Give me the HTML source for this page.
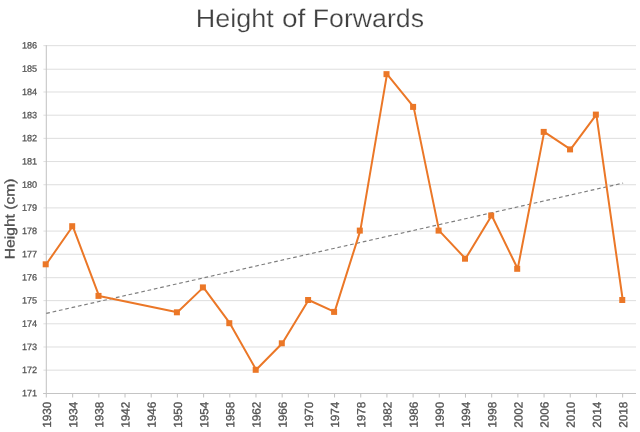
<!DOCTYPE html>
<html><head><meta charset="utf-8"><title>Height of Forwards</title>
<style>
html,body{margin:0;padding:0;background:#fff;}
body{width:640px;height:432px;overflow:hidden;font-family:"Liberation Sans",sans-serif;}
svg{display:block;will-change:transform;}
svg text{text-rendering:geometricPrecision;font-family:"Liberation Sans",sans-serif;}
</style></head><body>
<svg width="640" height="432" viewBox="0 0 640 432">
<rect width="640" height="432" fill="#ffffff"/>
<g stroke="#D8D8D8" stroke-width="0.85" fill="none">
<line x1="43.40" y1="370.17" x2="636.00" y2="370.17"/>
<line x1="43.40" y1="346.99" x2="636.00" y2="346.99"/>
<line x1="43.40" y1="323.81" x2="636.00" y2="323.81"/>
<line x1="43.40" y1="300.63" x2="636.00" y2="300.63"/>
<line x1="43.40" y1="277.70" x2="636.00" y2="277.70"/>
<line x1="43.40" y1="254.27" x2="636.00" y2="254.27"/>
<line x1="43.40" y1="231.09" x2="636.00" y2="231.09"/>
<line x1="43.40" y1="207.91" x2="636.00" y2="207.91"/>
<line x1="43.40" y1="184.73" x2="636.00" y2="184.73"/>
<line x1="43.40" y1="161.55" x2="636.00" y2="161.55"/>
<line x1="43.40" y1="138.37" x2="636.00" y2="138.37"/>
<line x1="43.40" y1="115.19" x2="636.00" y2="115.19"/>
<line x1="43.40" y1="92.01" x2="636.00" y2="92.01"/>
<line x1="43.40" y1="69.23" x2="636.00" y2="69.23"/>
<line x1="43.40" y1="45.65" x2="636.00" y2="45.65"/>
</g>
<g stroke="#C4C4C4" stroke-width="1.05" fill="none">
<line x1="46.30" y1="45.15" x2="46.30" y2="397.60"/>
<line x1="43.10" y1="393.40" x2="636.00" y2="393.40"/>
<line x1="72.64" y1="393.40" x2="72.64" y2="397.60"/>
<line x1="98.83" y1="393.40" x2="98.83" y2="397.60"/>
<line x1="125.02" y1="393.40" x2="125.02" y2="397.60"/>
<line x1="151.21" y1="393.40" x2="151.21" y2="397.60"/>
<line x1="177.40" y1="393.40" x2="177.40" y2="397.60"/>
<line x1="203.59" y1="393.40" x2="203.59" y2="397.60"/>
<line x1="229.78" y1="393.40" x2="229.78" y2="397.60"/>
<line x1="255.97" y1="393.40" x2="255.97" y2="397.60"/>
<line x1="282.16" y1="393.40" x2="282.16" y2="397.60"/>
<line x1="308.35" y1="393.40" x2="308.35" y2="397.60"/>
<line x1="334.54" y1="393.40" x2="334.54" y2="397.60"/>
<line x1="360.73" y1="393.40" x2="360.73" y2="397.60"/>
<line x1="386.92" y1="393.40" x2="386.92" y2="397.60"/>
<line x1="413.11" y1="393.40" x2="413.11" y2="397.60"/>
<line x1="439.30" y1="393.40" x2="439.30" y2="397.60"/>
<line x1="465.49" y1="393.40" x2="465.49" y2="397.60"/>
<line x1="491.68" y1="393.40" x2="491.68" y2="397.60"/>
<line x1="517.87" y1="393.40" x2="517.87" y2="397.60"/>
<line x1="544.06" y1="393.40" x2="544.06" y2="397.60"/>
<line x1="570.25" y1="393.40" x2="570.25" y2="397.60"/>
<line x1="596.44" y1="393.40" x2="596.44" y2="397.60"/>
<line x1="622.63" y1="393.40" x2="622.63" y2="397.60"/>
</g>
<g fill="#505050" stroke="#505050" stroke-width="0.25" font-size="9.20" text-anchor="end">
<text transform="translate(37.10 396.30) rotate(0.03)" textLength="15.20" lengthAdjust="spacingAndGlyphs">171</text>
<text transform="translate(37.10 373.12) rotate(0.03)" textLength="15.20" lengthAdjust="spacingAndGlyphs">172</text>
<text transform="translate(37.10 349.94) rotate(0.03)" textLength="15.20" lengthAdjust="spacingAndGlyphs">173</text>
<text transform="translate(37.10 326.76) rotate(0.03)" textLength="15.20" lengthAdjust="spacingAndGlyphs">174</text>
<text transform="translate(37.10 303.58) rotate(0.03)" textLength="15.20" lengthAdjust="spacingAndGlyphs">175</text>
<text transform="translate(37.10 280.40) rotate(0.03)" textLength="15.20" lengthAdjust="spacingAndGlyphs">176</text>
<text transform="translate(37.10 257.22) rotate(0.03)" textLength="15.20" lengthAdjust="spacingAndGlyphs">177</text>
<text transform="translate(37.10 234.04) rotate(0.03)" textLength="15.20" lengthAdjust="spacingAndGlyphs">178</text>
<text transform="translate(37.10 210.86) rotate(0.03)" textLength="15.20" lengthAdjust="spacingAndGlyphs">179</text>
<text transform="translate(37.10 187.68) rotate(0.03)" textLength="15.20" lengthAdjust="spacingAndGlyphs">180</text>
<text transform="translate(37.10 164.50) rotate(0.03)" textLength="15.20" lengthAdjust="spacingAndGlyphs">181</text>
<text transform="translate(37.10 141.32) rotate(0.03)" textLength="15.20" lengthAdjust="spacingAndGlyphs">182</text>
<text transform="translate(37.10 118.14) rotate(0.03)" textLength="15.20" lengthAdjust="spacingAndGlyphs">183</text>
<text transform="translate(37.10 94.96) rotate(0.03)" textLength="15.20" lengthAdjust="spacingAndGlyphs">184</text>
<text transform="translate(37.10 71.78) rotate(0.03)" textLength="15.20" lengthAdjust="spacingAndGlyphs">185</text>
<text transform="translate(37.10 48.60) rotate(0.03)" textLength="15.20" lengthAdjust="spacingAndGlyphs">186</text>
</g>
<g fill="#505050" stroke="#505050" stroke-width="0.3" font-size="11.80" text-anchor="end">
<text transform="translate(51.00 401.70) rotate(-89.97)" textLength="26.00" lengthAdjust="spacingAndGlyphs">1930</text>
<text transform="translate(77.19 401.70) rotate(-89.97)" textLength="26.00" lengthAdjust="spacingAndGlyphs">1934</text>
<text transform="translate(103.38 401.70) rotate(-89.97)" textLength="26.00" lengthAdjust="spacingAndGlyphs">1938</text>
<text transform="translate(129.57 401.70) rotate(-89.97)" textLength="26.00" lengthAdjust="spacingAndGlyphs">1942</text>
<text transform="translate(155.76 401.70) rotate(-89.97)" textLength="26.00" lengthAdjust="spacingAndGlyphs">1946</text>
<text transform="translate(181.95 401.70) rotate(-89.97)" textLength="26.00" lengthAdjust="spacingAndGlyphs">1950</text>
<text transform="translate(208.14 401.70) rotate(-89.97)" textLength="26.00" lengthAdjust="spacingAndGlyphs">1954</text>
<text transform="translate(234.33 401.70) rotate(-89.97)" textLength="26.00" lengthAdjust="spacingAndGlyphs">1958</text>
<text transform="translate(260.52 401.70) rotate(-89.97)" textLength="26.00" lengthAdjust="spacingAndGlyphs">1962</text>
<text transform="translate(286.71 401.70) rotate(-89.97)" textLength="26.00" lengthAdjust="spacingAndGlyphs">1966</text>
<text transform="translate(312.90 401.70) rotate(-89.97)" textLength="26.00" lengthAdjust="spacingAndGlyphs">1970</text>
<text transform="translate(339.09 401.70) rotate(-89.97)" textLength="26.00" lengthAdjust="spacingAndGlyphs">1974</text>
<text transform="translate(365.28 401.70) rotate(-89.97)" textLength="26.00" lengthAdjust="spacingAndGlyphs">1978</text>
<text transform="translate(391.47 401.70) rotate(-89.97)" textLength="26.00" lengthAdjust="spacingAndGlyphs">1982</text>
<text transform="translate(417.66 401.70) rotate(-89.97)" textLength="26.00" lengthAdjust="spacingAndGlyphs">1986</text>
<text transform="translate(443.85 401.70) rotate(-89.97)" textLength="26.00" lengthAdjust="spacingAndGlyphs">1990</text>
<text transform="translate(470.04 401.70) rotate(-89.97)" textLength="26.00" lengthAdjust="spacingAndGlyphs">1994</text>
<text transform="translate(496.23 401.70) rotate(-89.97)" textLength="26.00" lengthAdjust="spacingAndGlyphs">1998</text>
<text transform="translate(522.42 401.70) rotate(-89.97)" textLength="26.00" lengthAdjust="spacingAndGlyphs">2002</text>
<text transform="translate(548.61 401.70) rotate(-89.97)" textLength="26.00" lengthAdjust="spacingAndGlyphs">2006</text>
<text transform="translate(574.80 401.70) rotate(-89.97)" textLength="26.00" lengthAdjust="spacingAndGlyphs">2010</text>
<text transform="translate(600.99 401.70) rotate(-89.97)" textLength="26.00" lengthAdjust="spacingAndGlyphs">2014</text>
<text transform="translate(627.18 401.70) rotate(-89.97)" textLength="26.00" lengthAdjust="spacingAndGlyphs">2018</text>
</g>
<text transform="translate(14.55 218.85) rotate(-89.97)" fill="#505050" stroke="#505050" stroke-width="0.3" font-size="13.80" text-anchor="middle" textLength="80.60" lengthAdjust="spacingAndGlyphs">Height (cm)</text>
<g fill="#404040" stroke="#ffffff" stroke-width="0.25" font-size="25.50">
<text x="195.70" y="26.80" textLength="78.00" lengthAdjust="spacingAndGlyphs">Height</text>
<text x="281.90" y="26.80" textLength="23.40" lengthAdjust="spacingAndGlyphs">of</text>
<text x="312.80" y="26.80" textLength="111.20" lengthAdjust="spacingAndGlyphs">Forwards</text>
</g>
<line x1="46.25" y1="313.4" x2="623.1" y2="183.1" stroke="#7E7E7E" stroke-width="1.15" stroke-dasharray="3.7 2.79"/>
<polyline points="46.20,264.30 72.70,226.20 99.00,295.90 177.40,312.30 203.40,287.40 229.80,323.20 256.20,369.80 282.30,343.30 308.60,300.00 334.60,311.90 360.30,230.60 387.00,74.15 413.60,106.90 439.10,230.60 465.50,258.70 491.70,215.50 517.70,268.80 544.20,131.90 570.55,149.40 596.35,114.60 622.75,300.00" fill="none" stroke="#EB7727" stroke-width="2.00" stroke-linejoin="round" stroke-linecap="round"/>
<g fill="#EB7727">
<rect x="42.70" y="261.30" width="6.00" height="6.00"/>
<rect x="69.20" y="223.20" width="6.00" height="6.00"/>
<rect x="95.50" y="292.90" width="6.00" height="6.00"/>
<rect x="173.90" y="309.30" width="6.00" height="6.00"/>
<rect x="199.90" y="284.40" width="6.00" height="6.00"/>
<rect x="226.30" y="320.20" width="6.00" height="6.00"/>
<rect x="252.70" y="366.80" width="6.00" height="6.00"/>
<rect x="278.80" y="340.30" width="6.00" height="6.00"/>
<rect x="305.10" y="297.00" width="6.00" height="6.00"/>
<rect x="331.10" y="308.90" width="6.00" height="6.00"/>
<rect x="356.80" y="227.60" width="6.00" height="6.00"/>
<rect x="383.50" y="71.15" width="6.00" height="6.00"/>
<rect x="410.10" y="103.90" width="6.00" height="6.00"/>
<rect x="435.60" y="227.60" width="6.00" height="6.00"/>
<rect x="462.00" y="255.70" width="6.00" height="6.00"/>
<rect x="488.20" y="212.50" width="6.00" height="6.00"/>
<rect x="514.20" y="265.80" width="6.00" height="6.00"/>
<rect x="540.70" y="128.90" width="6.00" height="6.00"/>
<rect x="567.05" y="146.40" width="6.00" height="6.00"/>
<rect x="592.85" y="111.60" width="6.00" height="6.00"/>
<rect x="619.25" y="297.00" width="6.00" height="6.00"/>
</g>
</svg>
</body></html>
